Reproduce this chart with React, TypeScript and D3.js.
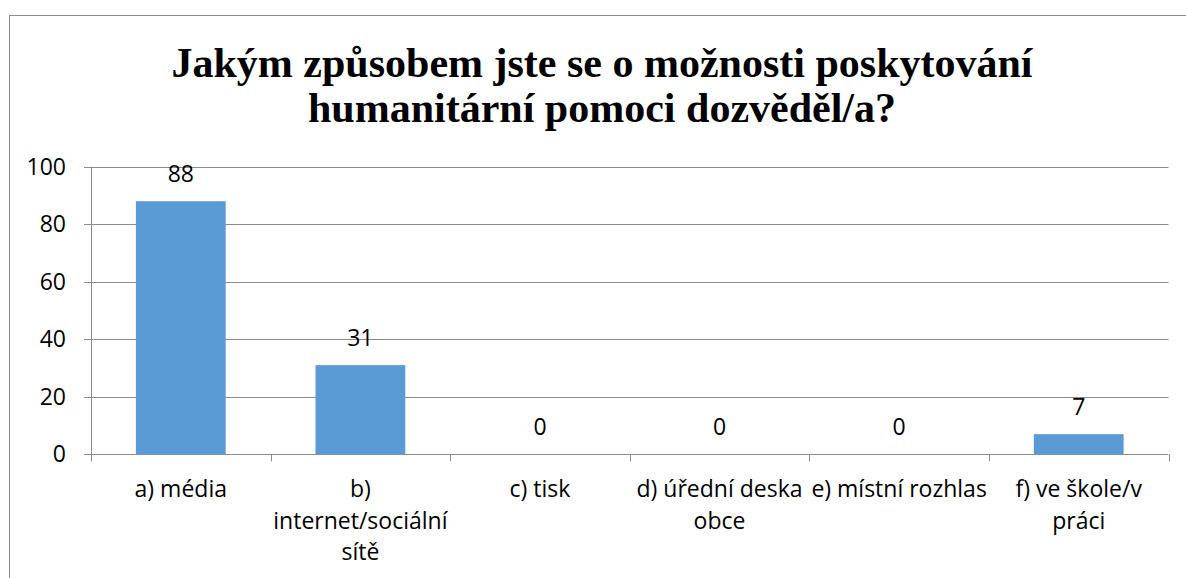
import { useEffect, useRef } from "react";
import * as d3 from "d3";

const categories = ["a) média", "b) internet/sociální sítě", "c) tisk", "d) úřední deska obce", "e) místní rozhlas", "f) ve škole/v práci"];
const categoryLines = [["a) média"], ["b)", "internet/sociální", "sítě"], ["c) tisk"], ["d) úřední deska", "obce"], ["e) místní rozhlas"], ["f) ve škole/v", "práci"]];
const values = [88, 31, 0, 0, 0, 7];
const yTicks = [0, 20, 40, 60, 80, 100];
const titleLines = ["Jakým způsobem jste se o možnosti poskytování", "humanitární pomoci dozvěděl/a?"];

const W = 1186;
const H = 578;
const labelFont = "'Open Sans', 'Liberation Sans', Arial, sans-serif";
const titleFont = "'Times New Roman', Tinos, 'Nimbus Roman', 'Noto Serif', 'DejaVu Serif', FreeSerif, Times, serif";

export default function App() {
  const svgRef = useRef<SVGSVGElement>(null);

  useEffect(() => {
    if (!svgRef.current) return;
    const svg = d3.select(svgRef.current);
    svg.selectAll("*").remove();

    const plot = { left: 91, right: 1168.5, top: 166.7, bottom: 454.3 };

    const x = d3.scaleBand<string>().domain(categories).range([plot.left, plot.right]).paddingInner(0.5).paddingOuter(0.25);
    const band = d3.scaleBand<string>().domain(categories).range([plot.left, plot.right]);
    const y = d3.scaleLinear().domain([0, 100]).range([plot.bottom, plot.top]);

    // chart frame
    svg.append("rect")
      .attr("x", 9.5).attr("y", 15.5)
      .attr("width", 1190).attr("height", 580)
      .attr("fill", "#fff").attr("stroke", "#8c8c8c").attr("stroke-width", 1);

    // title
    svg.append("g")
      .selectAll("text")
      .data(titleLines)
      .join("text")
      .attr("x", 602)
      .attr("y", (_, i) => 77 + i * 45)
      .attr("text-anchor", "middle")
      .style("font-family", titleFont)
      .attr("font-weight", "bold")
      .attr("font-size", 42)
      .attr("fill", "#000")
      .text((d) => d);

    // gridlines
    svg.append("g")
      .selectAll("line")
      .data(yTicks)
      .join("line")
      .attr("x1", plot.left - 7).attr("x2", plot.right)
      .attr("y1", (d) => Math.round(y(d)) + 0.5).attr("y2", (d) => Math.round(y(d)) + 0.5)
      .attr("stroke", "#8c8c8c").attr("stroke-width", 1);

    // y axis line
    svg.append("line")
      .attr("x1", plot.left + 0.5).attr("x2", plot.left + 0.5)
      .attr("y1", plot.top).attr("y2", plot.bottom)
      .attr("stroke", "#8c8c8c");

    // y tick labels
    svg.append("g")
      .selectAll("text")
      .data(yTicks)
      .join("text")
      .attr("x", 66)
      .attr("y", (d) => y(d))
      .attr("dy", "0.35em")
      .attr("text-anchor", "end")
      .attr("font-family", labelFont)
      .attr("font-size", 23)
      .attr("fill", "#000")
      .text((d) => d);

    // x ticks
    const edges = categories.map((c) => band(c) as number).concat([plot.right]);
    svg.append("g")
      .selectAll("line")
      .data(edges)
      .join("line")
      .attr("x1", (d) => Math.round(d) + 0.5).attr("x2", (d) => Math.round(d) + 0.5)
      .attr("y1", plot.bottom).attr("y2", plot.bottom + 7)
      .attr("stroke", "#8c8c8c");

    // bars
    svg.append("g")
      .selectAll("rect")
      .data(values)
      .join("rect")
      .attr("x", (_, i) => x(categories[i]) as number)
      .attr("width", x.bandwidth())
      .attr("y", (d) => y(d))
      .attr("height", (d) => plot.bottom - y(d))
      .attr("fill", "#5b9bd5");

    // value labels
    svg.append("g")
      .selectAll("text")
      .data(values)
      .join("text")
      .attr("x", (_, i) => (band(categories[i]) as number) + band.bandwidth() / 2)
      .attr("y", (d) => y(d) - 19)
      .attr("text-anchor", "middle")
      .attr("font-family", labelFont)
      .attr("font-size", 23)
      .attr("fill", "#000")
      .text((d) => d);

    // category labels
    const cat = svg.append("g")
      .selectAll("text")
      .data(categoryLines)
      .join("text")
      .attr("x", (_, i) => (band(categories[i]) as number) + band.bandwidth() / 2)
      .attr("y", 497)
      .attr("text-anchor", "middle")
      .attr("font-family", labelFont)
      .attr("font-size", 23)
      .attr("fill", "#000");
    cat.selectAll("tspan")
      .data((d) => d)
      .join("tspan")
      .attr("x", function () { return (this.parentNode as SVGTextElement).getAttribute("x"); })
      .attr("dy", (_, i) => (i === 0 ? 0 : 31.5))
      .text((d) => d);
  }, []);

  return (
    <svg
      ref={svgRef}
      width={W}
      height={H}
      viewBox={`0 0 ${W} ${H}`}
      style={{ position: "absolute", left: 0, top: 0, display: "block", background: "#fff" }}
    />
  );
}
